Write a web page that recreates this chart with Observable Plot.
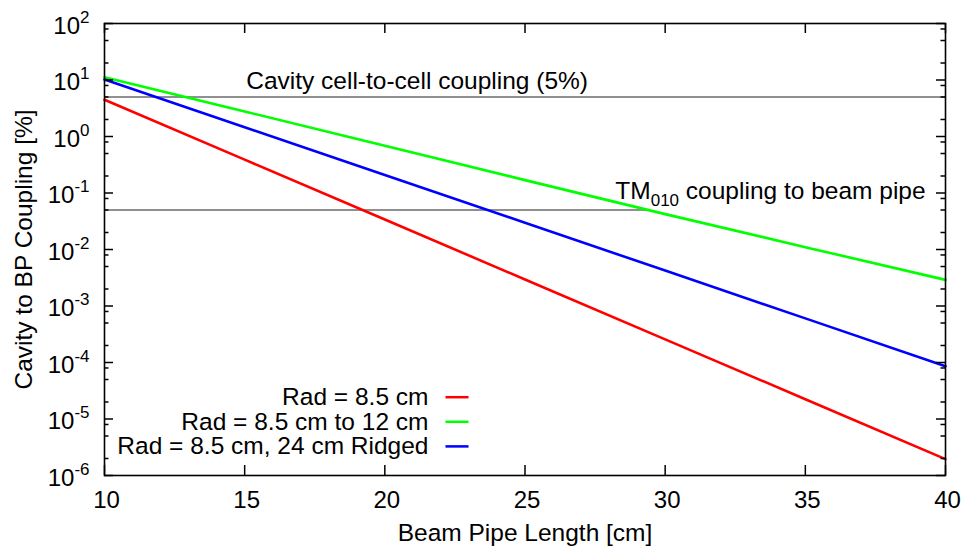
<!DOCTYPE html>
<html><head><meta charset="utf-8">
<script src="https://cdn.jsdelivr.net/npm/d3@7"></script>
<script src="https://cdn.jsdelivr.net/npm/@observablehq/plot@0.6"></script>
<style>
body{margin:0;background:#fff;}
</style></head><body><div id="chart"></div>
<script>
// ---- data ----
const lengths = [10, 15, 20, 25, 30, 35, 40];
const rad85 = [4.47, 0.389, 0.0339, 2.95e-3, 2.57e-4, 2.24e-5, 1.95e-6];
const rad85to12 = [11.2, 2.77, 0.686, 0.169, 0.0423, 0.0110, 2.9e-3];
const rad85ridged = [10.2, 1.457, 0.208, 0.0297, 4.24e-3, 6.04e-4, 8.6e-5];
const seriesNames = ["Rad = 8.5 cm", "Rad = 8.5 cm to 12 cm", "Rad = 8.5 cm, 24 cm Ridged"];
const seriesColors = ["#ff0000", "#00ff00", "#0000ff"];
const xTicks = [10, 15, 20, 25, 30, 35, 40];
const yTicks = [1e-6, 1e-5, 1e-4, 1e-3, 1e-2, 1e-1, 1e0, 1e1, 1e2];
const yMinorMultipliers = [2, 5, 8];
const refValues = [5, 0.05];
const refStart = [10, 10];
const refEnd = [40, 29.37];
const annTexts = ["Cavity cell-to-cell coupling (5%)", "TM_{010} coupling to beam pipe"];
const annX = [21.15, 39.29];
const annY = [5, 0.05];
const xTitle = "Beam Pipe Length [cm]";
const yTitle = "Cavity to BP Coupling [%]";

// ---- tables ----
const seriesValues = [rad85, rad85to12, rad85ridged];
const rows = seriesNames.flatMap((name, i) => lengths.map((x, j) => ({x, y: seriesValues[i][j], series: name})));
const refs = refValues.map((v, i) => ({y: v, x1: refStart[i], x2: refEnd[i]}));
const yMinor = yTicks.slice(0, -1).flatMap(t => yMinorMultipliers.map(m => t * m));
const anns = annTexts.map((t, i) => ({t, x: annX[i], y: annY[i]}));

const W = 965, H = 550, ML = 104, MR = 20, MT = 23, MB = 75;
const IW = W - ML - MR, IH = H - MT - MB;
const FS = 24.5, TFS = 24;

const legendMarks = seriesNames.flatMap((name, i) => {
  const rowY = 396.7 + i * 24.6 - MT;
  return [
    Plot.text([name], {frameAnchor: "top-left", text: d => d, textAnchor: "end", lineAnchor: "middle", dx: 428 - ML, dy: rowY, fontSize: FS, fill: "#000"}),
    Plot.frame({fill: seriesColors[i], stroke: "none", insetLeft: 445 - ML, insetRight: (ML + IW) - 468, insetTop: rowY - 1.25, insetBottom: IH - rowY - 1.25})
  ];
});

const chart = Plot.plot({
  width: W, height: H,
  marginLeft: ML, marginRight: MR, marginTop: MT, marginBottom: MB,
  style: {fontFamily: "'Liberation Sans', Arial, Helvetica, sans-serif", fontSize: FS + "px", background: "#fff", color: "#000"},
  x: {domain: [10, 40], axis: null},
  y: {type: "log", domain: [1e-6, 1e2], axis: null},
  color: {domain: seriesNames, range: seriesColors},
  marks: [
    Plot.ruleY(refs, {y: "y", x1: "x1", x2: "x2", stroke: "#909090", strokeWidth: 2.2}),
    Plot.line(rows, {x: "x", y: "y", z: "series", stroke: "series", strokeWidth: 2.6}),
    // ticks
    Plot.tickY(yTicks, {y: d => d, insetRight: IW - 9, stroke: "#000", strokeWidth: 1.5}),
    Plot.tickY(yTicks, {y: d => d, insetLeft: IW - 9, stroke: "#000", strokeWidth: 1.5}),
    Plot.tickY(yMinor, {y: d => d, insetRight: IW - 4.5, stroke: "#000", strokeWidth: 1.5}),
    Plot.tickY(yMinor, {y: d => d, insetLeft: IW - 4.5, stroke: "#000", strokeWidth: 1.5}),
    Plot.tickX(xTicks, {x: d => d, insetTop: IH - 10, stroke: "#000", strokeWidth: 1.5}),
    Plot.tickX(xTicks, {x: d => d, insetBottom: IH - 10, stroke: "#000", strokeWidth: 1.5}),
    Plot.frame({stroke: "#000", strokeWidth: 1.6}),
    // tick labels
    Plot.text(yTicks, {y: d => d, frameAnchor: "left", text: d => "10^" + Math.round(Math.log10(d)), textAnchor: "end", lineAnchor: "middle", dx: -15, dy: 2.4, fontSize: TFS, fill: "#000"}),
    Plot.text(xTicks, {x: d => d, frameAnchor: "bottom", text: d => String(d), textAnchor: "middle", lineAnchor: "middle", dx: 2, dy: 25, fontSize: TFS, fill: "#000"}),
    // axis titles
    Plot.text([xTitle], {frameAnchor: "bottom", text: d => d, textAnchor: "middle", lineAnchor: "middle", dy: 58, fontSize: FS, fill: "#000"}),
    Plot.text([yTitle], {frameAnchor: "left", text: d => d, textAnchor: "middle", lineAnchor: "middle", rotate: -90, dx: -80, fontSize: FS, fill: "#000"}),
    // annotations
    Plot.text(anns.filter(d => d.t.indexOf("_{") < 0), {x: "x", y: "y", text: "t", textAnchor: "middle", lineAnchor: "bottom", dy: -8, fontSize: FS, fill: "#000"}),
    Plot.text(anns.filter(d => d.t.indexOf("_{") >= 0), {x: "x", y: "y", text: "t", textAnchor: "end", lineAnchor: "bottom", dy: -11, fontSize: FS, fill: "#000"}),
    ...legendMarks
  ]
});

// rich text: superscripts (^) and subscripts (_{...})
const NS = "http://www.w3.org/2000/svg";
function rich(t, parts) {
  t.textContent = "";
  parts.forEach(([str, dy, size]) => {
    const ts = document.createElementNS(NS, "tspan");
    if (dy) ts.setAttribute("dy", dy);
    if (size) ts.setAttribute("font-size", size);
    ts.textContent = str;
    t.appendChild(ts);
  });
}
chart.querySelectorAll("text").forEach(t => {
  const s = t.textContent;
  if (s.includes("^")) {
    const [b, e] = s.split("^");
    rich(t, [[b], [e, -11, 17]]);
  } else if (s.includes("_{")) {
    const m = s.match(/^(.*)_\{(.*?)\}(.*)$/);
    rich(t, [[m[1]], [m[2], 7, 17], [m[3], -7]]);
  }
});
document.getElementById("chart").appendChild(chart);
</script>
</body></html>
